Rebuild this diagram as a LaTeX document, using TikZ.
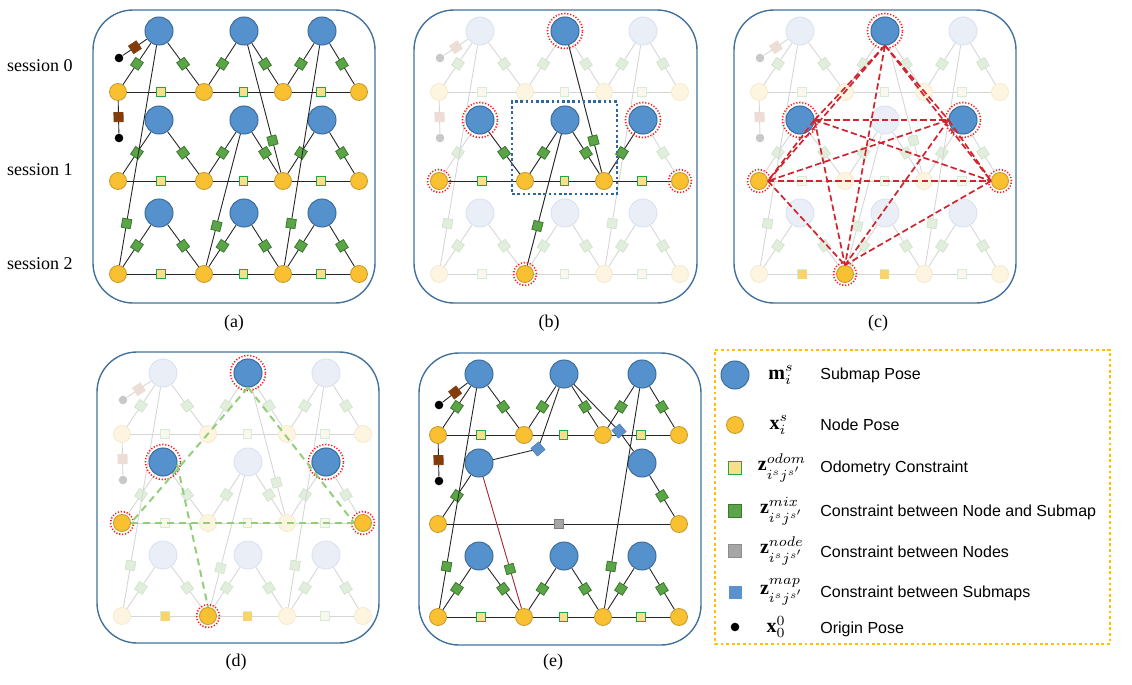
\documentclass[tikz,border=0pt]{standalone}
\usepackage{fontspec}
\setmainfont{Liberation Serif}
\newfontfamily\legfont{Liberation Sans}
\usetikzlibrary{fit}

% 颜色
\definecolor{subBlue}{HTML}{5591CC}
\definecolor{subEdge}{HTML}{3E6D9C}
\definecolor{poseYel}{HTML}{F9C032}
\definecolor{poseEdge}{HTML}{C49A2C}
\definecolor{mixGreen}{HTML}{5BA548}
\definecolor{mixEdge}{HTML}{3A7A2C}
\definecolor{odoFill}{HTML}{FADF8A}
\definecolor{odoEdge}{HTML}{21A54A}
\definecolor{odoGold}{HTML}{F7D56A}
\definecolor{nodeGray}{HTML}{A6A6A6}
\definecolor{mapBlue}{HTML}{5B92CE}
\definecolor{brownC}{HTML}{843C0C}
\definecolor{panelBlue}{HTML}{41719C}
\definecolor{ringRed}{HTML}{FF1A1A}
\definecolor{dashRed}{HTML}{D0242E}
\definecolor{dashGreen}{HTML}{93CF7B}
\definecolor{legOrange}{HTML}{FFC000}
\definecolor{focusBlue}{HTML}{2F67A0}
\definecolor{lineRed}{HTML}{A0282C}
% 淡化颜色
\definecolor{subF}{HTML}{E9EEF7}
\definecolor{subFe}{HTML}{DCE4F1}
\definecolor{poseF}{HTML}{FEF5E1}
\definecolor{poseFe}{HTML}{F5EAD0}
\definecolor{lineF}{HTML}{D6D6D6}
\definecolor{mixF}{HTML}{E2EEDD}
\definecolor{mixFe}{HTML}{D3E6CC}
\definecolor{odoF}{HTML}{FAF8EC}
\definecolor{odoFe}{HTML}{D5ECD8}
\definecolor{brownF}{HTML}{EEDDD6}
\definecolor{origF}{HTML}{C8C8C8}

\tikzset{
  submap/.style={circle, fill=subBlue, draw=subEdge, line width=.5pt, minimum size=14pt, inner sep=0pt},
  pose/.style={circle, fill=poseYel, draw=poseEdge, line width=.4pt, minimum size=8.5pt, inner sep=0pt},
  linkf/.style={draw=black!85, line width=.45pt},
  fac/.style={rectangle, sloped, inner sep=0pt, minimum size=4.6pt, line width=.4pt},
  mixf/.style={fac, fill=mixGreen, draw=mixEdge},
  odof/.style={fac, minimum size=4.3pt, fill=odoFill, draw=odoEdge, line width=.6pt},
  nodef/.style={fac, fill=nodeGray, draw=black!50},
  mapf/.style={rectangle, inner sep=0pt, minimum size=5pt, fill=mapBlue, draw=mapBlue!85!black, line width=.3pt, rotate=40},
  brownf/.style={fac, fill=brownC, draw=brownC},
  orig/.style={circle, fill=black, minimum size=4.3pt, inner sep=0pt},
  faded/.style={
    submap/.append style={fill=subF, draw=subFe},
    pose/.append style={fill=poseF, draw=poseFe},
    linkf/.style={draw=lineF, line width=.45pt},
    mixf/.style={fac, fill=mixF, draw=mixFe},
    odof/.style={fac, minimum size=4.3pt, fill=odoF, draw=odoFe, line width=.6pt},
    brownf/.style={fac, fill=brownF, draw=brownF},
    orig/.append style={fill=origF}},
  odoY/.style={rectangle, inner sep=0pt, minimum size=4.5pt, fill=odoGold},
  ringS/.style={circle, draw=ringRed, line width=.8pt, dash pattern=on .6pt off .9pt, minimum size=17.5pt, inner sep=0pt},
  ringN/.style={ringS, minimum size=11.5pt},
  redlink/.style={draw=dashRed, line width=.85pt, dash pattern=on 3.2pt off 1.6pt},
  greenlink/.style={draw=dashGreen, line width=1pt, dash pattern=on 3.5pt off 2.5pt},
  panel/.style={draw=panelBlue, line width=.7pt, rounded corners=20pt},
  lab/.style={font=\fontsize{9}{11}\selectfont},
  legmath/.style={font=\fontsize{10}{12}\selectfont},
  legtext/.style={anchor=west, font=\legfont\fontsize{8}{10}\selectfont, inner sep=0pt},
}

% 一个会话: #1 面板, #2 会话, #3 子图 y, #4 节点 y
\newcommand{\sessrow}[4]{%
  % 子图位姿
  \node[submap] (#1-M0-#2) at (159,#3) {};
  \node[submap] (#1-M1-#2) at (244,#3) {};
  \node[submap] (#1-M2-#2) at (322,#3) {};
  % 节点位姿
  \node[pose] (#1-N0-#2) at (118,#4) {};
  \node[pose] (#1-N1-#2) at (204,#4) {};
  \node[pose] (#1-N2-#2) at (283,#4) {};
  \node[pose] (#1-N3-#2) at (359,#4) {};
  % 里程计约束
  \draw[linkf] (#1-N0-#2) -- node[odof] (#1-o0-#2) {} (#1-N1-#2);
  \draw[linkf] (#1-N1-#2) -- node[odof] (#1-o1-#2) {} (#1-N2-#2);
  \draw[linkf] (#1-N2-#2) -- node[odof] (#1-o2-#2) {} (#1-N3-#2);
  % 节点-子图约束
  \foreach \i/\j in {0/1,1/2,2/3} {
    \draw[linkf] (#1-M\i-#2) -- node[mixf] (#1-a\i-#2) {} (#1-N\i-#2);
    \draw[linkf] (#1-M\i-#2) -- node[mixf] (#1-b\i-#2) {} (#1-N\j-#2);
  }
}

% 原点位姿
\newcommand{\origins}[2]{%
  \node[orig] (#1-O0) at (119,#2) {};
  \draw[linkf] (#1-O0) -- node[brownf] (#1-d0) {} (#1-M0-0);
  \node[orig] (#1-O1) at (119,138) {};
  \draw[linkf] (#1-N0-0) -- node[brownf] (#1-d1) {} (#1-O1);
}

% 完整的多会话图
\newcommand{\fullgraph}[1]{%
  \sessrow{#1}{0}{31}{92}
  \sessrow{#1}{1}{120}{181}
  \sessrow{#1}{2}{213}{274}
  % 跨会话约束
  \draw[linkf] (#1-M0-0) -- node[mixf, pos=.81] (#1-c0) {} (#1-N0-2);
  \draw[linkf] (#1-M1-0) -- node[mixf, pos=.75] (#1-c1) {} (#1-N2-1);
  \draw[linkf] (#1-M2-0) -- node[mixf, pos=.81] (#1-c2) {} (#1-N2-2);
  \draw[linkf] (#1-M1-1) -- node[mixf, pos=.70] (#1-c3) {} (#1-N1-2);
  \origins{#1}{58}
}

% 高亮的六个位姿
\newcommand{\hlsix}[1]{%
  \node[submap] (#1-hM1-0) at (#1-M1-0) {};
  \node[submap] (#1-hM0-1) at (#1-M0-1) {};
  \node[submap] (#1-hM2-1) at (#1-M2-1) {};
  \node[pose] (#1-hN0-1) at (#1-N0-1) {};
  \node[pose] (#1-hN3-1) at (#1-N3-1) {};
  \node[pose] (#1-hN1-2) at (#1-N1-2) {};
}
\newcommand{\rings}[1]{%
  \foreach \n in {M1-0,M0-1,M2-1} \node[ringS] (#1-r\n) at (#1-\n) {};
  \foreach \n in {N0-1,N3-1,N1-2} \node[ringN] (#1-r\n) at (#1-\n) {};
}

\begin{document}
\begin{tikzpicture}[x=0.5pt, y=-0.5pt]
    \useasboundingbox (0,0) rectangle (1132,685);

    % 面板外框
    \draw[panel] (93,10) rectangle (375,303);
    \draw[panel] (414,10) rectangle (697,303);
    \draw[panel] (734,10) rectangle (1016,303);
    \draw[panel] (97,352) rectangle (379,643);
    \draw[panel] (419,353) rectangle (701,645);

    % 会话标签
    \node[lab] (s0) at (40,66)  {session 0};
    \node[lab] (s1) at (40,170) {session 1};
    \node[lab] (s2) at (40,264) {session 2};

    % (a) 完整图
    \fullgraph{a}

    % (b) 局部子图
    \begin{scope}[shift={(321,0)}, faded]
        \fullgraph{b}
    \end{scope}
    \hlsix{b}
    \node[submap] (b-hM1-1) at (b-M1-1) {};
    \node[pose] (b-hN1-1) at (b-N1-1) {};
    \node[pose] (b-hN2-1) at (b-N2-1) {};
    \draw[linkf] (b-hN0-1) -- node[odof] (b-ho0) {} (b-hN1-1);
    \draw[linkf] (b-hN1-1) -- node[odof] (b-ho1) {} (b-hN2-1);
    \draw[linkf] (b-hN2-1) -- node[odof] (b-ho2) {} (b-hN3-1);
    \draw[linkf] (b-hM0-1) -- node[mixf] (b-hb0) {} (b-hN1-1);
    \draw[linkf] (b-hM1-1) -- node[mixf] (b-ha1) {} (b-hN1-1);
    \draw[linkf] (b-hM1-1) -- node[mixf] (b-hb1) {} (b-hN2-1);
    \draw[linkf] (b-hM2-1) -- node[mixf] (b-ha2) {} (b-hN2-1);
    \draw[linkf] (b-hM1-0) -- node[mixf, pos=.75] (b-hc1) {} (b-hN2-1);
    \draw[linkf] (b-hM1-1) -- node[mixf, pos=.70] (b-hc3) {} (b-hN1-2);
    \rings{b}
    \node[draw=focusBlue, line width=1.3pt, dash pattern=on 1.3pt off 1.3pt,
          fit=(b-hM1-1)(b-hN1-1)(b-hN2-1), inner sep=2pt] (b-focus) {};

    % (c) 全连接
    \begin{scope}[shift={(641,0)}, faded]
        \fullgraph{c}
    \end{scope}
    \node[odoY] (c-y0) at (c-o0-2) {};
    \node[odoY] (c-y1) at (c-o1-2) {};
    \hlsix{c}
    \rings{c}
    \foreach \u/\v in {M1-0.south/M0-1.east, M1-0.south/M2-1.west, M1-0.south/N0-1.east,
                       M1-0.south/N3-1.west, M1-0.south/N1-2.north, M0-1.east/M2-1.west,
                       M0-1.east/N0-1.east, M0-1.east/N3-1.west, M0-1.east/N1-2.north,
                       M2-1.west/N0-1.east, M2-1.west/N3-1.west, M2-1.west/N1-2.north,
                       N0-1.east/N3-1.west, N0-1.east/N1-2.north, N3-1.west/N1-2.north}
        \draw[redlink] (c-h\u) -- (c-h\v);

    % (d) 稀疏化
    \begin{scope}[shift={(4,342)}, faded]
        \fullgraph{d}
    \end{scope}
    \node[odoY] (d-y0) at (d-o0-2) {};
    \node[odoY] (d-y1) at (d-o1-2) {};
    \hlsix{d}
    \rings{d}
    \draw[greenlink] (d-hM1-0.south) -- (d-hN0-1.east);
    \draw[greenlink] (d-hM1-0.south) -- (d-hN3-1.west);
    \draw[greenlink] (d-hN0-1.east) -- (d-hN3-1.west);
    \draw[greenlink] (d-hM0-1.-10) -- (d-hN1-2.north);

    % (e) 边缘化后的图
    \begin{scope}[shift={(320,343)}]
        \sessrow{e}{0}{31}{92}
        \sessrow{e}{2}{213}{274}
        % 会话 1
        \node[submap] (e-M0-1) at (159,120) {};
        \node[submap] (e-M2-1) at (322,120) {};
        \node[pose] (e-N0-1) at (118,181) {};
        \node[pose] (e-N3-1) at (359,181) {};
        \draw[linkf] (e-M0-1) -- node[mixf] (e-a0-1) {} (e-N0-1);
        \draw[linkf] (e-M2-1) -- node[mixf] (e-b2-1) {} (e-N3-1);
        \draw[linkf] (e-N0-1) -- node[nodef] (e-g0) {} (e-N3-1);
        % 子图间约束
        \node[mapf] (e-p0) at (218,106) {};
        \node[mapf] (e-p1) at (299,88) {};
        \draw[linkf] (e-M0-1) -- (e-p0) -- (e-M1-0);
        \draw[linkf] (e-M1-0) -- (e-p1) -- (e-M2-1);
        % 跨会话约束
        \draw[linkf] (e-M0-0) -- node[mixf, pos=.81] (e-c0) {} (e-N0-2);
        \draw[linkf] (e-M2-0) -- node[mixf, pos=.81] (e-c2) {} (e-N2-2);
        \draw[draw=lineRed, line width=.45pt] (e-M0-1) -- node[mixf, pos=.70] (e-c4) {} (e-N1-2);
        \origins{e}{62}
    \end{scope}

    % 面板标签
    \node[lab] (la) at (234,323) {(a)};
    \node[lab] (lb) at (549,323) {(b)};
    \node[lab] (lc) at (878,323) {(c)};
    \node[lab] (ld) at (236,662) {(d)};
    \node[lab] (le) at (553,662) {(e)};

    % 图例
    \node[draw=legOrange, line width=1.4pt, dash pattern=on 1.4pt off 1.4pt,
          minimum width=197.5pt, minimum height=147pt, inner sep=0pt] (legend) at (912.5,497) {};
    \node[submap] (l-m) at (735,375) {};
    \node[pose] (l-x) at (735,425) {};
    \node[rectangle, inner sep=0pt, minimum size=6.5pt, fill=odoFill, draw=odoEdge, line width=.5pt] (l-o) at (735,468) {};
    \node[rectangle, inner sep=0pt, minimum size=6.5pt, fill=mixGreen, draw=mixEdge, line width=.5pt] (l-g) at (735,511) {};
    \node[rectangle, inner sep=0pt, minimum size=6.5pt, fill=nodeGray, draw=black!45, line width=.5pt] (l-n) at (735,551) {};
    \node[rectangle, inner sep=0pt, minimum size=6.5pt, fill=mapBlue] (l-p) at (735,592) {};
    \node[orig] (l-0) at (735,627) {};

    \node[legmath] (t-m) at (781,375) {$\mathbf{m}_i^s$};
    \node[legmath] (t-x) at (779,425) {$\mathbf{x}_i^s$};
    \node[legmath] (t-o) at (782,468) {$\mathbf{z}_{i^s j^{s'}}^{odom}$};
    \node[legmath] (t-g) at (782,511) {$\mathbf{z}_{i^s j^{s'}}^{mix}$};
    \node[legmath] (t-n) at (782,551) {$\mathbf{z}_{i^s j^{s'}}^{node}$};
    \node[legmath] (t-p) at (782,592) {$\mathbf{z}_{i^s j^{s'}}^{map}$};
    \node[legmath] (t-0) at (776,627) {$\mathbf{x}_0^0$};

    \node[legtext] (d-m) at (820,375) {Submap Pose};
    \node[legtext] (d-x) at (820,425) {Node Pose};
    \node[legtext] (d-o) at (820,468) {Odometry Constraint};
    \node[legtext] (d-g) at (820,512) {Constraint between Node and Submap};
    \node[legtext] (d-n) at (820,552) {Constraint between Nodes};
    \node[legtext] (d-p) at (820,593) {Constraint between Submaps};
    \node[legtext] (d-0) at (820,629) {Origin Pose};

\end{tikzpicture}
\end{document}
